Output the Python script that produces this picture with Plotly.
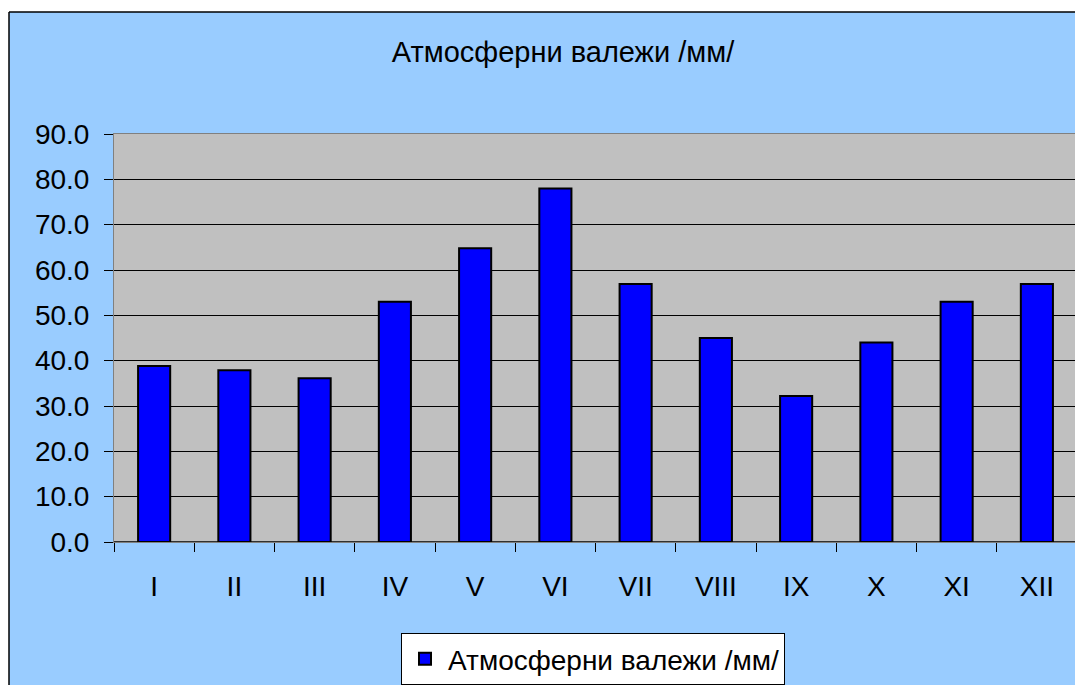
import plotly.graph_objects as go

months = ["I", "II", "III", "IV", "V", "VI", "VII", "VIII", "IX", "X", "XI", "XII"]
precip = [38.8, 37.9, 36.1, 53.0, 64.8, 78.0, 56.9, 45.0, 32.2, 44.0, 53.0, 56.9]
series_name = "Атмосферни валежи /мм/"
title_text = "Атмосферни валежи /мм/"

# page has an 8px body margin; figure coordinates below are page - 8
W, H = 1075, 677
L, R, T, B = 106, 1069, 126, 534
font_family = "Liberation Sans, Arial, sans-serif"


def px(xp):
    return (xp - L) / (R - L)


def py(yp):
    return (B - yp) / (B - T)


fig = go.Figure()
fig.add_trace(go.Bar(
    x=months, y=precip, name=series_name,
    marker=dict(color="#0000FF", line=dict(color="#000000", width=2)),
    width=0.4, showlegend=True,
))

fig.update_layout(
    width=W, height=H,
    margin=dict(l=L, r=W - R, t=T, b=H - B, pad=0),
    paper_bgcolor="#99CCFF",
    plot_bgcolor="#C0C0C0",
    font=dict(family=font_family, color="#000000"),
    title=dict(text=title_text, xref="container", yref="container",
               x=555 / W, xanchor="center", y=1 - 44 / H, yanchor="middle",
               font=dict(size=29, family=font_family, color="#000000")),
    showlegend=True,
    legend=dict(orientation="h", xref="container", yref="container",
                x=585 / W, xanchor="center",
                y=1 - 625 / H, yanchor="top",
                bgcolor="#FFFFFF", bordercolor="#000000", borderwidth=1,
                font=dict(size=28, family=font_family),
                itemwidth=36),
    bargap=0.6,
    xaxis=dict(showgrid=False, ticks="outside", tickson="boundaries",
               ticklen=9, tickcolor="#000000", tickwidth=1,
               showline=True, linecolor="#808080", linewidth=1, mirror=True,
               tickfont=dict(size=28, family=font_family),
               ticklabelstandoff=19),
    yaxis=dict(range=[0, 90], dtick=10, tickformat=".1f",
               showgrid=True, gridcolor="#000000", gridwidth=1,
               zeroline=False,
               ticks="outside", ticklen=9, tickcolor="#000000", tickwidth=1,
               showline=True, linecolor="#808080", linewidth=1, mirror=True,
               tickfont=dict(size=28, family=font_family),
               ticklabelstandoff=9),
    shapes=[
        dict(type="rect", xref="paper", yref="paper",
             x0=px(-2), x1=px(W + 5), y0=py(-2), y1=py(4),
             fillcolor="#FFFFFF", line=dict(width=0), layer="above"),
        dict(type="rect", xref="paper", yref="paper",
             x0=px(-2), x1=px(1), y0=py(-2), y1=py(H + 5),
             fillcolor="#FFFFFF", line=dict(width=0), layer="above"),
        dict(type="line", xref="paper", yref="paper",
             x0=px(1), x1=px(W + 5), y0=py(4), y1=py(4),
             line=dict(color="#000000", width=1.5), layer="above"),
        dict(type="line", xref="paper", yref="paper",
             x0=px(1), x1=px(1), y0=py(4), y1=py(H + 5),
             line=dict(color="#000000", width=1.5), layer="above"),
        dict(type="line", xref="paper", yref="y",
             x0=0, x1=1, y0=0, y1=0,
             line=dict(color="#000000", width=1.5), layer="above"),
    ],
)

fig.write_html("out.html")
